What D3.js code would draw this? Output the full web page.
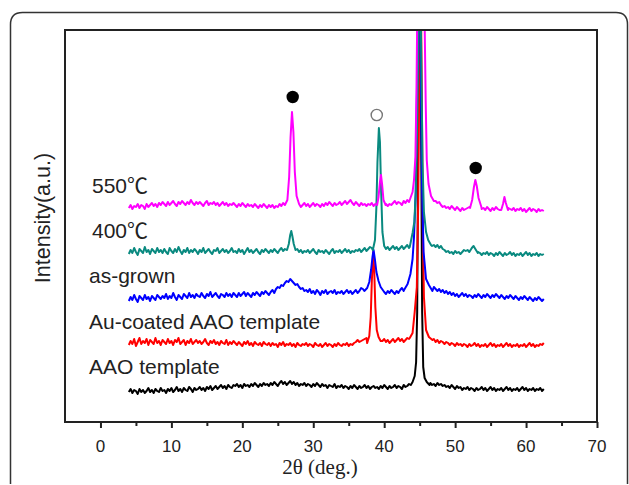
<!DOCTYPE html>
<html>
<head>
<meta charset="utf-8">
<script src="https://cdn.jsdelivr.net/npm/d3@7"></script>
<style>
  body { margin: 0; background: #fff; overflow: hidden; }
  svg { display: block; }
</style>
</head>
<body>
<div id="xrd"></div>
<script>
// baseline traces sampled every 0.25 deg from 4 deg, intensity in a.u.
const degStart = 4;
const degStep = 0.25;

const aaoBase = [
  30,33,29,32,31,28,33,30,32,29,31,34,30,32,29,33,31,30,34,31,
  32,29,33,31,34,30,32,35,31,33,30,34,32,31,35,33,30,34,32,33,
  35,32,34,31,35,33,36,32,34,36,33,35,37,34,36,33,37,35,34,37,
  36,38,35,37,34,38,36,37,35,38,36,39,37,35,38,36,39,37,38,36,
  39,37,40,38,36,39,41,38,40,37,39,41,38,40,37,39,36,38,37,39,
  36,38,37,35,38,36,39,37,35,38,36,37,34,37,36,35,38,34,36,35,
  37,34,36,35,33,36,34,37,35,33,36,34,35,37,34,36,33,35,36,34,
  35,33,36,34,37,35,33,36,34,35,37,34,36,35,33,37,35,36,38,37,
  38,39,40,41,42,41,40,39,38,38,39,37,38,36,39,37,38,36,37,35,
  36,34,37,35,33,36,34,35,32,34,33,35,32,34,33,31,34,32,33,35,
  32,34,31,33,35,32,34,31,33,32,34,31,33,35,32,34,31,33,32,34,
  31,33,35,32,34,31,33,32,34,31,33,32,34,31,33
];
const auBase = [
  77,81,78,83,76,80,84,78,81,79,83,77,82,80,78,84,79,81,77,82,
  80,78,83,79,81,77,82,80,84,78,80,82,77,81,79,83,78,80,82,79,
  81,78,80,83,79,77,81,79,82,78,80,77,81,79,78,82,77,80,78,81,
  79,77,80,78,76,80,78,81,77,79,76,80,78,77,79,76,80,78,77,79,
  76,79,77,78,75,79,77,80,76,78,77,79,76,78,75,79,77,76,78,77,
  79,76,78,77,75,79,77,76,78,75,77,79,76,78,77,75,78,76,79,77,
  76,78,77,79,76,78,77,79,80,82,80,81,82,83,84,83,82,82,79,81,
  80,82,79,81,83,80,82,79,81,83,80,82,84,81,83,80,82,84,83,86,
  88,90,92,94,95,94,92,90,88,86,84,82,83,80,82,79,81,80,78,80,
  79,77,79,78,76,79,77,78,76,78,77,75,78,76,77,79,76,78,75,77,
  76,78,75,77,79,76,78,75,77,76,78,75,77,79,76,78,75,77,76,78,
  75,77,76,78,75,77,79,76,78,75,77,76,78,77,79
];
const grownBase = [
  121,125,122,127,123,120,126,124,122,127,123,125,121,126,124,122,127,125,123,126,
  124,128,123,126,124,129,125,122,127,125,123,128,126,124,129,125,127,124,128,126,
  125,129,126,124,128,126,130,125,127,129,126,124,128,127,125,129,126,128,125,129,
  127,125,129,126,128,130,126,129,127,125,129,127,130,128,126,130,128,131,129,127,
  130,132,129,133,135,134,137,136,139,141,140,143,141,139,137,138,135,133,134,131,
  132,130,133,129,131,128,132,130,127,131,129,132,128,130,131,129,132,128,130,129,
  131,128,130,132,129,131,128,130,132,129,131,134,133,136,138,137,136,135,134,134,
  133,131,129,132,130,128,131,129,132,130,128,131,129,132,134,131,133,136,138,142,
  150,152,154,156,155,150,146,142,138,136,137,134,135,133,131,133,130,132,129,131,
  128,130,127,129,126,128,125,127,129,126,128,125,127,126,124,127,125,128,126,124,
  127,125,128,126,124,127,125,128,126,124,127,125,123,126,124,127,125,123,126,124,
  122,125,123,126,124,122,125,123,121,124,122,125,123,121,123
];
const c400Base = [
  168,172,169,174,170,167,173,171,169,175,170,172,168,173,171,169,174,170,172,169,
  173,170,168,174,171,169,173,170,175,171,168,172,170,174,169,172,170,173,171,168,
  172,170,174,169,171,173,170,168,172,171,174,169,171,173,170,172,169,171,174,170,
  171,169,173,170,172,168,171,174,170,172,169,171,173,170,168,172,170,173,171,169,
  172,170,173,171,169,172,174,171,173,172,174,173,172,174,171,173,170,172,169,171,
  170,172,169,171,173,170,168,172,170,171,169,172,170,168,171,173,169,171,170,172,
  169,171,173,170,172,169,171,170,172,171,173,170,172,174,171,173,175,174,173,172,
  173,172,174,175,175,173,175,172,174,176,173,175,172,174,176,173,175,177,174,178,
  180,181,182,183,184,183,182,181,180,179,178,176,177,175,177,174,176,173,172,170,
  171,169,170,168,171,169,170,168,170,172,171,172,170,171,169,171,168,170,169,167,
  169,168,170,167,169,168,166,169,167,170,168,166,169,167,168,170,167,169,166,168,
  167,169,166,168,170,167,169,166,168,167,169,166,168,167,168
];
const c550Base = [
  214,217,213,216,215,218,214,217,216,213,218,215,217,219,216,218,215,219,217,220,
  218,216,220,217,219,221,218,216,220,218,221,219,217,220,218,222,219,217,220,218,
  220,218,216,219,221,217,219,218,220,217,219,216,218,220,217,219,216,218,217,219,
  217,215,218,216,219,217,215,218,216,217,215,218,216,214,217,215,218,216,214,217,
  215,217,214,216,215,218,216,219,218,217,219,218,217,219,218,216,218,215,217,219,
  216,218,215,217,219,216,218,217,215,218,216,219,217,220,218,216,219,217,218,220,
  217,219,221,218,220,222,219,217,220,218,216,219,217,218,216,218,217,219,216,218,
  217,218,219,218,217,218,216,218,217,219,221,218,220,219,217,221,219,222,220,224,
  226,228,230,232,231,229,227,226,225,224,223,222,220,221,219,220,217,215,216,214,
  215,213,216,214,212,215,213,211,214,212,213,214,215,216,217,216,215,214,215,213,
  214,212,215,213,211,214,212,215,213,212,214,213,214,213,214,213,212,214,211,213,
  212,214,211,213,210,212,214,211,213,212,210,213,211,212,211
];

// peaks as [2theta, intensity]; they replace the baseline over their span
const aaoPeaks = [
  [[44.0,40],[44.3,46],[44.5,60],[44.65,110],[44.8,300],[45.0,480],[45.2,300],[45.35,110],[45.5,55],[45.7,44],[46.0,40],[46.4,37]]
];
const auPeaks = [
  [[37.6,79],[37.9,86],[38.1,105],[38.25,140],[38.45,170],[38.6,150],[38.75,115],[38.95,92],[39.2,85],[39.5,81]],
  [[43.6,84],[44.0,89],[44.3,110],[44.6,135],[44.8,220],[44.95,350],[45.1,480],[45.3,330],[45.45,190],[45.6,125],[45.9,92],[46.3,85],[46.8,82]]
];
const grownPeaks = [
  [[37.2,131],[37.6,134],[37.9,140],[38.15,152],[38.35,165],[38.5,172],[38.7,162],[38.9,150],[39.2,141],[39.5,135],[39.9,131]],
  [[42.8,132],[43.3,138],[43.7,148],[44.0,163],[44.2,185],[44.45,230],[44.65,350],[44.9,480],[45.15,350],[45.35,230],[45.55,170],[45.9,143],[46.3,137],[46.8,131]]
];
const c400Peaks = [
  [[26.3,172],[26.55,178],[26.75,187],[26.9,191],[27.05,186],[27.25,178],[27.5,172]],
  [[38.4,172],[38.7,182],[38.9,215],[39.05,260],[39.25,294],[39.4,280],[39.55,235],[39.75,190],[40.0,176]],
  [[43.6,175],[44.0,189],[44.25,200],[44.45,230],[44.65,300],[44.85,400],[45.0,480],[45.2,380],[45.4,260],[45.6,210],[45.9,190],[46.2,182],[46.6,177]],
  [[52.0,170],[52.35,174],[52.6,176],[52.85,173],[53.2,169]]
];
const c550Peaks = [
  [[26.0,217],[26.35,222],[26.6,245],[26.8,285],[27.0,310],[27.2,290],[27.4,250],[27.65,226],[28.0,218]],
  [[39.0,217],[39.2,225],[39.4,240],[39.55,247],[39.7,238],[39.9,222],[40.2,217]],
  [[43.6,222],[44.0,230],[44.2,242],[44.4,265],[44.55,330],[44.65,400],[45.15,520],[45.7,400],[45.85,320],[46.0,262],[46.25,238],[46.6,226],[47.0,221]],
  [[52.1,214],[52.4,222],[52.65,235],[52.85,242],[53.05,236],[53.3,224],[53.7,215]],
  [[56.5,212],[56.75,218],[56.95,225],[57.15,219],[57.45,212]]
];

const seriesNames = ["AAO template", "Au-coated AAO template", "as-grown", "400℃", "550℃"];
const seriesColors = ["#000000", "#ff0000", "#0000ff", "#0a8a80", "#ff00ff"];

// peak markers: filled = one phase, open = the other
const filledMarks = [[27.1, 325], [52.9, 254]];
const openMarks = [[38.95, 307]];

const xMajorTicks = [0, 10, 20, 30, 40, 50, 60, 70];
const xMinorTicks = [5, 15, 25, 35, 45, 55, 65];

const buildSeries = (base, peaks) => {
    const pts = base.map((v, i) => [degStart + i * degStep, v])
                    .filter(([d]) => !peaks.some(p => d >= p[0][0] && d <= p[p.length - 1][0]));
    peaks.forEach(p => pts.push(...p));
    return pts.sort((a, b) => a[0] - b[0]);
};

const series = [
    buildSeries(aaoBase, aaoPeaks),
    buildSeries(auBase, auPeaks),
    buildSeries(grownBase, grownPeaks),
    buildSeries(c400Base, c400Peaks),
    buildSeries(c550Base, c550Peaks)
];

const width = 629, height = 485;
const margin = {top: 30, right: 32, bottom: 63, left: 65};
const innerWidth = width - margin.left - margin.right;
const innerHeight = height - margin.top - margin.bottom;

const svg = d3.select("#xrd")
              .append("svg")
              .attr("width", width)
              .attr("height", height);

// outer rounded panel border: left, top and right sides only
svg.append("path")
   .attr("d", "M10.5,484 V24.5 Q10.5,12.5 22.5,12.5 H616 Q627.5,12.5 627.5,24.5 V484")
   .attr("fill", "none")
   .attr("stroke", "#333")
   .attr("stroke-width", 1.5);

const xScale = d3.scaleLinear().domain([-5, 70]).range([0, innerWidth]);
const yScale = d3.scaleLinear().domain([0, 392]).range([innerHeight, 0]);

const inner = svg.append("g")
                 .attr("transform", `translate(${margin.left}, ${margin.top})`);

inner.append("clipPath")
     .attr("id", "plot-clip")
     .append("rect")
     .attr("width", innerWidth)
     .attr("height", innerHeight);

const line = d3.line()
               .x(d => xScale(d[0]))
               .y(d => yScale(d[1]));

inner.append("g")
     .attr("clip-path", "url(#plot-clip)")
     .selectAll("path")
     .data(series)
     .join("path")
     .attr("d", line)
     .attr("fill", "none")
     .attr("stroke", (d, i) => seriesColors[i])
     .attr("stroke-width", 2)
     .attr("stroke-linejoin", "round");

// series labels
const labelPos = [[89, 374], [89, 329], [89, 283], [92, 238], [92, 193]];
svg.append("g")
   .selectAll("text")
   .data(seriesNames)
   .join("text")
   .attr("x", (d, i) => labelPos[i][0])
   .attr("y", (d, i) => labelPos[i][1])
   .text(d => d)
   .attr("fill", "#222")
   .style("font-family", "'Liberation Sans', Arial, 'Noto Sans CJK SC', sans-serif")
   .style("font-size", "21px");

// phase markers
inner.selectAll("circle.filled")
     .data(filledMarks)
     .join("circle")
     .attr("class", "filled")
     .attr("cx", d => xScale(d[0]))
     .attr("cy", d => yScale(d[1]))
     .attr("r", 6.2)
     .attr("fill", "#000");

inner.selectAll("circle.open")
     .data(openMarks)
     .join("circle")
     .attr("class", "open")
     .attr("cx", d => xScale(d[0]))
     .attr("cy", d => yScale(d[1]))
     .attr("r", 5.6)
     .attr("fill", "none")
     .attr("stroke", "#777")
     .attr("stroke-width", 1.4);

// axes: tick marks from d3, labels placed with the same scale
const xAxis = inner.append("g")
                   .attr("transform", `translate(0, ${innerHeight})`)
                   .call(d3.axisBottom(xScale).tickValues(xMajorTicks).tickSize(6).tickFormat(""));
xAxis.select(".domain").remove();
xAxis.selectAll("text").remove();
xAxis.selectAll("line").attr("stroke", "#222").attr("stroke-width", 2);

const xMinor = inner.append("g")
                    .attr("transform", `translate(0, ${innerHeight})`)
                    .call(d3.axisBottom(xScale).tickValues(xMinorTicks).tickSize(4).tickFormat(""));
xMinor.select(".domain").remove();
xMinor.selectAll("text").remove();
xMinor.selectAll("line").attr("stroke", "#222").attr("stroke-width", 2);

inner.append("g")
     .selectAll("text")
     .data(xMajorTicks)
     .join("text")
     .attr("x", d => xScale(d))
     .attr("y", innerHeight + 30)
     .attr("text-anchor", "middle")
     .attr("fill", "#222")
     .style("font-family", "'Liberation Sans', Arial, sans-serif")
     .style("font-size", "17px")
     .text(d => d);

inner.append("rect")
     .attr("width", innerWidth)
     .attr("height", innerHeight)
     .attr("fill", "none")
     .attr("stroke", "#222")
     .attr("stroke-width", 2);

// axis titles
svg.append("text")
   .attr("x", 320)
   .attr("y", 474)
   .attr("text-anchor", "middle")
   .attr("fill", "#222")
   .style("font-family", "'Liberation Serif', 'Times New Roman', serif")
   .style("font-size", "21px")
   .text("2θ (deg.)");

svg.append("text")
   .attr("transform", "translate(50, 218) rotate(-90)")
   .attr("text-anchor", "middle")
   .attr("fill", "#222")
   .style("font-family", "'Liberation Sans', Arial, sans-serif")
   .style("font-size", "21.5px")
   .text("Intensity(a.u.)");
</script>
</body>
</html>
